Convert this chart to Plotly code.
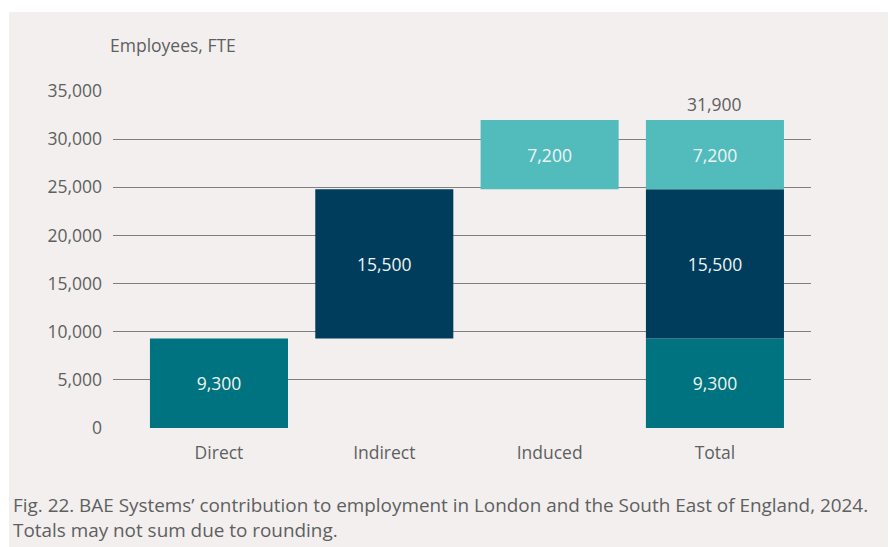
import plotly.graph_objects as go

categories = ["Direct", "Indirect", "Induced", "Total"]
direct_vals = [9300, 9300]
indirect_vals = [15500, 15500]
induced_vals = [7200, 7200]
total_label = "31,900"
total_top = 32000
y_ticks = [0, 5000, 10000, 15000, 20000, 25000, 30000, 35000]

O = 8  # page body margin offset
W, H = 896 - O, 547 - O
L, R, T, B = 113 - O, 85, 91 - O, 119
pw, ph = W - L - R, H - T - B

def px_x(p):
    return (p - O - L) / pw

def px_y(p):
    return (H - B - (p - O)) / ph

col_direct = "#007380"
col_indirect = "#003d5c"
col_induced = "#52bcbd"
txt_col = "#5e5f61"
bar_txt = "#eef4f4"
bg = "#f2efee"
FS = 17.5

fig = go.Figure()

def add(xs, ys, base, color):
    fig.add_trace(go.Bar(
        x=xs, y=ys, base=base, width=0.835,
        marker=dict(color=color, line=dict(width=0)),
        text=[f"{v:,}" for v in ys], textposition="inside",
        insidetextanchor="middle",
        textfont=dict(family="Open Sans", size=FS, color=bar_txt),
        hoverinfo="skip", showlegend=False,
    ))

add([0, 3], direct_vals, [0, 0], col_direct)
add([1, 3], indirect_vals, [direct_vals[0], direct_vals[1]], col_indirect)
add([2, 3], induced_vals,
    [direct_vals[0] + indirect_vals[0], direct_vals[1] + indirect_vals[1]], col_induced)

fig.add_annotation(x=3, y=total_top, text=total_label, showarrow=False,
                   yanchor="bottom", yshift=2,
                   font=dict(family="Open Sans", size=FS, color=txt_col))

fig.add_annotation(x=px_x(108), y=px_y(45), xref="paper", yref="paper",
                   text="Employees, FTE", showarrow=False, xanchor="left",
                   yanchor="middle",
                   font=dict(family="Open Sans", size=FS, color=txt_col))

cap_font = dict(family="Open Sans", size=18.9, color=txt_col)
fig.add_annotation(x=px_x(11), y=px_y(505), xref="paper", yref="paper",
                   text="Fig. 22. BAE Systems’ contribution to employment in London and the South East of England, 2024.",
                   showarrow=False, xanchor="left", yanchor="middle", font=cap_font)
fig.add_annotation(x=px_x(11), y=px_y(530), xref="paper", yref="paper",
                   text="Totals may not sum due to rounding.",
                   showarrow=False, xanchor="left", yanchor="middle", font=cap_font)

# white frame strips (top and left), beyond the page margin
fig.add_shape(type="rect", xref="paper", yref="paper", layer="above",
              x0=px_x(0), x1=px_x(W + 20), y0=px_y(12), y1=px_y(0),
              fillcolor="white", line=dict(width=0))
fig.add_shape(type="rect", xref="paper", yref="paper", layer="above",
              x0=px_x(0), x1=px_x(9), y0=px_y(H + 20), y1=px_y(0),
              fillcolor="white", line=dict(width=0))

fig.update_layout(
    width=W, height=H,
    margin=dict(l=L, r=R, t=T, b=B, pad=0),
    paper_bgcolor=bg, plot_bgcolor=bg,
    barmode="overlay",
    font=dict(family="Open Sans", size=FS, color=txt_col),
    xaxis=dict(range=[-0.641, 3.581], tickmode="array", tickvals=[0, 1, 2, 3],
               ticktext=categories, showgrid=False, zeroline=False,
               showline=False, ticks="", ticklabelstandoff=12,
               tickfont=dict(family="Open Sans", size=FS, color=txt_col)),
    yaxis=dict(range=[0, 35000], tickmode="array", tickvals=y_ticks,
               ticktext=[f"{v:,}" for v in y_ticks], showgrid=True,
               gridcolor="#7f7f7f", gridwidth=1.4, zeroline=False,
               showline=False, ticks="", ticklabelstandoff=10,
               tickfont=dict(family="Open Sans", size=FS, color=txt_col)),
)

fig.write_html("out.html")
